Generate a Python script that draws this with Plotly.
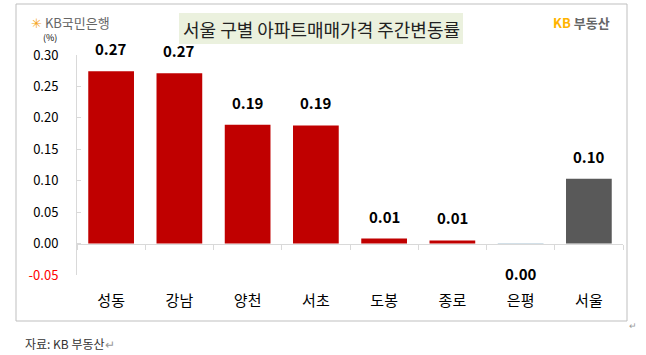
import plotly.graph_objects as go

categories = ["성동", "강남", "양천", "서초", "도봉", "종로", "은평", "서울"]
values = [0.274, 0.271, 0.189, 0.188, 0.008, 0.005, -0.001, 0.103]
bar_colors = ["#C00000"] * 6 + ["#D3E0E8", "#595959"]
y_ticks = [0.30, 0.25, 0.20, 0.15, 0.10, 0.05, 0.00, -0.05]
y_range = [-0.05, 0.30]

W, H = 646, 355
L, R, T, B = 77, 23, 55, 80
PW, PH = W - L - R, H - T - B

def px(x):
    return (x - L) / PW

def py(y):
    return (H - B - y) / PH

FONT = "Noto Sans CJK KR"

labels = [f"{v:.2f}".replace("-0.00", "0.00") for v in values]
tick_text = [
    f'<span style="color:#FF0000">{t:.2f}</span>' if t < 0 else f"{t:.2f}"
    for t in y_ticks
]

fig = go.Figure()
fig.add_trace(go.Bar(
    x=categories, y=values, marker=dict(color=bar_colors, line=dict(width=0)),
    width=0.67, hoverinfo="skip", showlegend=False,
))
# invisible trace to carry the zero-level axis with boundary ticks
fig.add_trace(go.Scatter(
    x=categories, y=values, xaxis="x2", mode="markers",
    marker=dict(opacity=0), hoverinfo="skip", showlegend=False,
))

zero_pos = (0 - y_range[0]) / (y_range[1] - y_range[0])

for c, v, lab in zip(categories, values, labels):
    if v >= 0:
        fig.add_annotation(x=c, y=v, text=f"<b>{lab}</b>", showarrow=False,
                           xanchor="center", yanchor="bottom", yshift=10,
                           font=dict(family=FONT, size=15, color="#000"))
    else:
        fig.add_annotation(x=c, y=v, text=f"<b>{lab}</b>", showarrow=False,
                           xanchor="center", yanchor="top", yshift=-17,
                           font=dict(family=FONT, size=15, color="#000"))

fig.update_layout(
    width=W, height=H,
    margin=dict(l=L, r=R, t=T, b=B),
    paper_bgcolor="white", plot_bgcolor="white",
    font=dict(family=FONT, color="#000"),
    bargap=0.33,
    xaxis=dict(
        type="category", showline=False, ticks="", showgrid=False, zeroline=False,
        tickfont=dict(family=FONT, size=15, color="#000"), ticklabelstandoff=15,
    ),
    xaxis2=dict(
        type="category", overlaying="x", matches="x", anchor="free", position=zero_pos,
        showline=True, linecolor="#D9D9D9", linewidth=1,
        ticks="outside", ticklen=5, tickcolor="#D9D9D9", tickson="boundaries",
        showticklabels=False, showgrid=False, zeroline=False,
    ),
    yaxis=dict(
        range=y_range, tickvals=y_ticks, ticktext=tick_text,
        showline=True, linecolor="#D9D9D9", linewidth=1,
        ticks="inside", ticklen=4, tickcolor="#D9D9D9",
        showgrid=False, zeroline=False, ticklabelstandoff=15,
        tickfont=dict(family=FONT, size=13, color="#000"),
    ),
)

shapes = [
    dict(type="rect", xref="paper", yref="paper", x0=px(16), x1=px(627), y0=py(321), y1=py(4),
         line=dict(color="#BFBFBF", width=1), fillcolor="rgba(0,0,0,0)", layer="below"),
    dict(type="rect", xref="paper", yref="paper", x0=px(179), x1=px(463), y0=py(44), y1=py(13),
         line=dict(width=0), fillcolor="#EBF1DE", layer="below"),
]
fig.update_layout(shapes=shapes)

def note(x, y, text, size, color="#000", xanchor="center"):
    fig.add_annotation(xref="paper", yref="paper", x=px(x), y=py(y), text=text,
                       xanchor=xanchor, yanchor="middle", showarrow=False,
                       font=dict(family=FONT, size=size, color=color))

note(321, 29, "서울 구별 아파트매매가격 주간변동률", 18, "#222")
note(50, 37, "(%)", 9)
note(29, 22, '<span style="color:#F5A623">✳</span> <span style="color:#666">KB국민은행</span>', 13, xanchor="left")
note(612, 22, '<b><span style="color:#FFB300">KB</span> <span style="color:#666">부동산</span></b>', 13, xanchor="right")
note(23, 343, '자료: KB 부동산<span style="color:#999">↵</span>', 12, "#333", xanchor="left")
note(627, 325, "↵", 9, "#999", xanchor="left")

fig.write_html("out.html")
